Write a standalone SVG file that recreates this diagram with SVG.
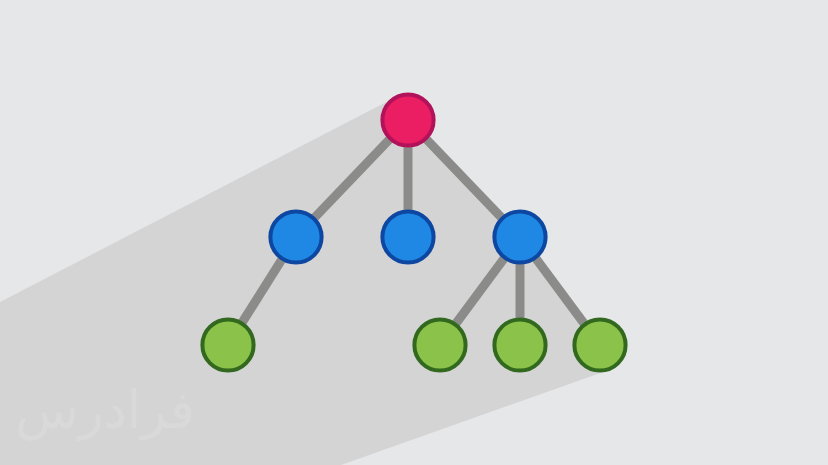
<svg xmlns="http://www.w3.org/2000/svg" width="828" height="465" viewBox="0 0 828 465">
<style>
.edge{stroke:#8b8b89;stroke-width:9;stroke-linecap:butt}
.n{stroke-width:4}
.root{fill:#ec1e63;stroke:#b2125a}
.blue{fill:#1f88e5;stroke:#0d47a1}
.green{fill:#8bc34a;stroke:#33691e}
</style>
<rect width="828" height="465" fill="#e6e7e9"/>
<polygon points="0,302 396,97 410,118 522,235 602,343 609,370 341,465 0,465" fill="#d4d4d4"/>
<text x="105" y="428" font-family="'DejaVu Sans', 'Noto Sans', sans-serif" font-size="52" fill="#d9d9d9" text-anchor="middle" direction="rtl">فرادرس</text>
<g id="connectors">
<line class="edge" x1="408" y1="120" x2="296" y2="237"/>
<line class="edge" x1="408" y1="120" x2="408" y2="237"/>
<line class="edge" x1="408" y1="120" x2="520" y2="237"/>
<line class="edge" x1="296" y1="237" x2="228" y2="345"/>
<line class="edge" x1="520" y1="237" x2="440" y2="345"/>
<line class="edge" x1="520" y1="237" x2="520" y2="345"/>
<line class="edge" x1="520" y1="237" x2="600" y2="345"/>
</g>
<g id="root"><circle class="n root" cx="408" cy="120" r="25.6"/></g>
<g id="b1"><circle class="n blue" cx="296" cy="237" r="25.6"/></g>
<g id="b2"><circle class="n blue" cx="408" cy="237" r="25.6"/></g>
<g id="b3"><circle class="n blue" cx="520" cy="237" r="25.6"/></g>
<g id="g1"><circle class="n green" cx="228" cy="345" r="25.6"/></g>
<g id="g2"><circle class="n green" cx="440" cy="345" r="25.6"/></g>
<g id="g3"><circle class="n green" cx="520" cy="345" r="25.6"/></g>
<g id="g4"><circle class="n green" cx="600" cy="345" r="25.6"/></g>
</svg>
